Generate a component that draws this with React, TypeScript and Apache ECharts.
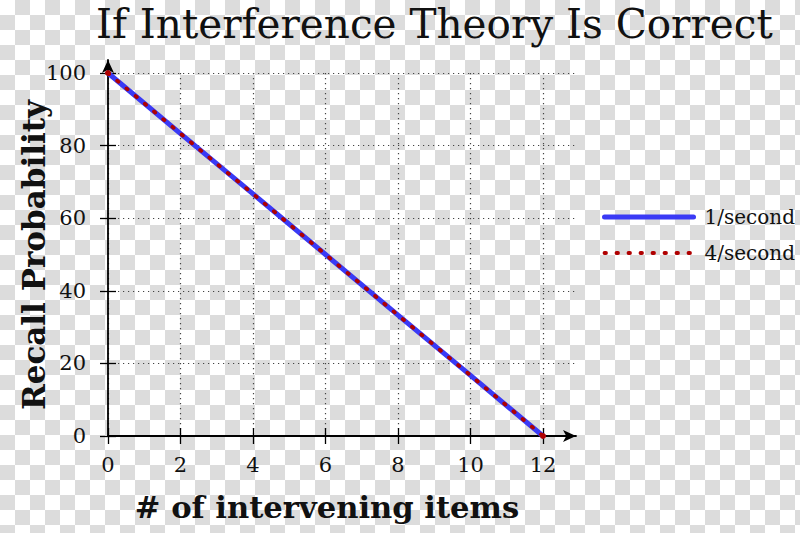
import React, { useEffect, useRef } from "react";
import * as echarts from "echarts";

const titleText = "If Interference Theory Is Correct";
const xAxisName = "# of intervening items";
const yAxisName = "Recall Probability";
const seriesNames = ["1/second", "4/second"];
const itemsIntervening = [0, 2, 4, 6, 8, 10, 12];
const recallRate1 = [100, 83.3, 66.7, 50, 33.3, 16.7, 0];
const recallRate4 = [100, 83.3, 66.7, 50, 33.3, 16.7, 0];
const xRange = [0, 12];
const yRange = [0, 100];
const xStep = 2;
const yStep = 20;

const FONT = "DejaVu Serif";
const BLUE = "#3a3af5";
const RED = "#b00000";

export default function App() {
  const ref = useRef<HTMLDivElement>(null);

  useEffect(() => {
    document.body.style.margin = "0";
    const chart = echarts.init(ref.current!, null, { renderer: "svg" });

    const blueData = itemsIntervening.map((x, i) => [x, recallRate1[i]]);
    const redData = itemsIntervening.map((x, i) => {
      const isEnd = i === 0 || i === itemsIntervening.length - 1;
      return isEnd
        ? { value: [x, recallRate4[i]], symbol: "circle", symbolSize: 6 }
        : { value: [x, recallRate4[i]] };
    });

    const dotted = { type: [1.2, 3.8] as any, color: "#444", width: 1.2 };
    const blueLine = { color: BLUE, width: 5, cap: "round" };
    const redLine = { color: RED, width: 3.8, type: [1.5, 10.5] as any, cap: "round" };

    chart.setOption({
      animation: false,
      title: {
        text: titleText,
        left: 96,
        top: 3,
        padding: 0,
        textStyle: { fontFamily: FONT, fontSize: 40.5, fontWeight: "normal", color: "#111" },
      },
      legend: {
        orient: "vertical",
        left: 597,
        top: 202,
        itemWidth: 89,
        itemHeight: 20,
        itemGap: 16,
        itemStyle: { opacity: 0, borderWidth: 0 },
        data: [
          { name: seriesNames[0], lineStyle: blueLine, itemStyle: { opacity: 0, borderWidth: 0 } },
          { name: seriesNames[1], lineStyle: redLine, itemStyle: { opacity: 0, borderWidth: 0 } },
        ],
        textStyle: { fontFamily: FONT, fontSize: 20, color: "#111", lineHeight: 20, padding: [0, 0, 0, 6] },
      },
      grid: [
        { left: 108, width: 468, top: 60, height: 376 },
        { left: 108, width: 435, top: 73, height: 363 },
        { left: 108, width: 470, top: 73, height: 363 },
      ],
      xAxis: [
        {
          gridIndex: 0, type: "value", min: 0, max: 1,
          axisLine: { show: true, onZero: false, symbol: ["none", "arrow"], symbolSize: [9, 13], lineStyle: { color: "#000", width: 1.8 } },
          axisTick: { show: false }, axisLabel: { show: false }, splitLine: { show: false },
        },
        {
          gridIndex: 1, type: "value", min: xRange[0], max: xRange[1], interval: xStep, offset: -8,
          axisLine: { show: false, onZero: false },
          axisTick: { show: true, length: 16, lineStyle: { color: "#000", width: 1.3 } },
          axisLabel: { margin: 26, fontFamily: FONT, fontSize: 21, color: "#111" },
          splitLine: { show: true, lineStyle: dotted },
        },
        { gridIndex: 2, type: "value", min: 0, max: 13, show: false },
      ],
      yAxis: [
        {
          gridIndex: 0, type: "value", min: 0, max: 1,
          axisLine: { show: true, onZero: false, symbol: ["none", "arrow"], symbolSize: [9, 13], lineStyle: { color: "#000", width: 1.8 } },
          axisTick: { show: false }, axisLabel: { show: false }, splitLine: { show: false },
        },
        {
          gridIndex: 1, type: "value", min: yRange[0], max: yRange[1], interval: yStep, offset: -8,
          axisLine: { show: false, onZero: false },
          axisTick: { show: true, length: 16, lineStyle: { color: "#000", width: 1.3 } },
          axisLabel: { margin: 30, fontFamily: FONT, fontSize: 21, color: "#111" },
          splitLine: { show: false },
        },
        {
          gridIndex: 2, type: "value", min: yRange[0], max: yRange[1], interval: yStep,
          axisLine: { show: false }, axisTick: { show: false }, axisLabel: { show: false },
          splitLine: { show: true, lineStyle: dotted },
        },
      ],
      graphic: [
        {
          type: "text", x: 327, y: 507,
          style: { text: xAxisName, fontFamily: FONT, fontSize: 30.6, fontWeight: "bold", fill: "#111", align: "center", verticalAlign: "middle" },
        },
        {
          type: "text", x: 34, y: 255, rotation: Math.PI / 2,
          style: { text: yAxisName, fontFamily: FONT, fontSize: 31, fontWeight: "bold", fill: "#111", align: "center", verticalAlign: "middle" },
        },
      ],
      series: [
        {
          name: seriesNames[0], type: "line", xAxisIndex: 1, yAxisIndex: 1,
          data: blueData, symbol: "none", z: 3,
          lineStyle: blueLine,
          itemStyle: { color: BLUE },
        },
        {
          name: seriesNames[1], type: "line", xAxisIndex: 1, yAxisIndex: 1,
          data: redData, symbol: "none", showSymbol: true, z: 4,
          lineStyle: redLine,
          itemStyle: { color: RED },
        },
      ],
    });

    return () => chart.dispose();
  }, []);

  return (
    <div
      style={{
        position: "absolute", left: 0, top: 0, width: 800, height: 533,
        backgroundImage: "conic-gradient(#dcdcdc 25%, #ffffff 0 50%, #dcdcdc 0 75%, #ffffff 0)",
        backgroundSize: "30px 30px",
      }}
    >
      <div ref={ref} style={{ width: 800, height: 533 }} />
    </div>
  );
}
